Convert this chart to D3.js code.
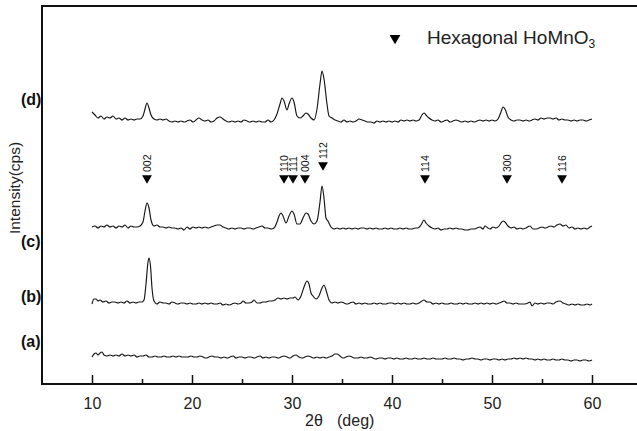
<!DOCTYPE html>
<html>
<head>
<meta charset="utf-8">
<script src="https://cdn.jsdelivr.net/npm/d3@7"></script>
<style>
html,body{margin:0;padding:0;background:#fff;}
svg{display:block;font-family:"Liberation Sans",Arial,Helvetica,sans-serif;}
</style>
</head>
<body>
<svg id="chart" width="637" height="431"></svg>
<script>
// 2θ (deg), intensity (cps, offset stacked)
const seriesD = [[10.0,272],[10.3,269],[10.6,266],[10.9,268],[11.2,265],[11.5,267],[11.8,266],[12.1,268],[12.4,265],[12.7,266],[13.0,264],[13.3,266],[13.6,264],[13.9,265],[14.2,264],[14.5,265],[14.8,265],[15.1,268],[15.3,275],[15.5,281],[15.7,276],[15.9,269],[16.2,265],[16.5,264],[16.8,265],[17.1,264],[17.4,265],[17.7,263],[18.0,262],[18.3,263],[18.6,262],[18.9,263],[19.2,262],[19.5,263],[19.8,264],[20.1,262],[20.4,264],[20.7,266],[21.0,264],[21.3,263],[21.6,264],[21.9,262],[22.2,263],[22.5,266],[22.8,267],[23.1,265],[23.4,263],[23.7,262],[24.0,263],[24.3,262],[24.6,263],[24.9,262],[25.2,264],[25.5,263],[25.8,262],[26.1,263],[26.4,262],[26.7,263],[27.0,262],[27.3,262],[27.6,264],[27.9,262],[28.2,264],[28.5,270],[28.8,280],[29.0,286],[29.2,283],[29.5,274],[29.7,280],[30.0,286],[30.2,282],[30.5,268],[30.8,266],[31.1,268],[31.4,271],[31.6,270],[31.9,266],[32.2,264],[32.5,275],[32.8,300],[33.0,313],[33.2,305],[33.5,280],[33.7,268],[34.0,266],[34.3,264],[34.6,263],[34.9,262],[35.2,264],[35.5,262],[35.8,263],[36.1,262],[36.4,263],[36.7,265],[37.0,264],[37.3,263],[37.6,262],[37.9,262],[38.2,261],[38.5,263],[38.8,262],[39.1,263],[39.4,262],[39.7,263],[40.0,262],[40.3,263],[40.6,262],[40.9,264],[41.2,263],[41.5,264],[41.8,263],[42.1,264],[42.4,263],[42.7,264],[43.0,269],[43.2,271],[43.4,269],[43.7,266],[44.0,264],[44.3,263],[44.6,264],[44.9,262],[45.2,263],[45.5,264],[45.8,262],[46.1,263],[46.4,264],[46.7,263],[47.0,262],[47.3,263],[47.6,262],[47.9,263],[48.2,262],[48.5,263],[48.8,264],[49.1,263],[49.4,264],[49.7,263],[50.0,264],[50.3,263],[50.6,265],[50.9,272],[51.1,277],[51.3,275],[51.6,267],[51.9,264],[52.2,263],[52.5,264],[52.8,264],[53.1,263],[53.4,264],[53.7,263],[54.0,264],[54.3,265],[54.6,264],[54.9,266],[55.2,265],[55.5,266],[55.8,266],[56.1,265],[56.4,266],[56.7,264],[57.0,265],[57.3,264],[57.6,264],[57.9,263],[58.2,264],[58.5,263],[58.8,264],[59.1,264],[59.4,263],[59.7,264],[60.0,265]];

const seriesC = [[10.0,157],[10.3,158],[10.6,156],[10.9,158],[11.2,157],[11.5,159],[11.8,157],[12.1,158],[12.4,156],[12.7,158],[13.0,157],[13.3,159],[13.6,156],[13.9,158],[14.2,157],[14.5,157],[14.8,158],[15.1,162],[15.3,173],[15.5,181],[15.7,176],[15.9,164],[16.2,158],[16.5,159],[16.8,157],[17.1,157],[17.4,156],[17.7,157],[18.0,156],[18.3,156],[18.6,155],[18.9,156],[19.2,154],[19.5,157],[19.8,155],[20.1,157],[20.4,156],[20.7,157],[21.0,156],[21.3,157],[21.6,156],[21.9,157],[22.2,158],[22.5,159],[22.8,159],[23.1,157],[23.4,156],[23.7,155],[24.0,156],[24.3,155],[24.6,156],[24.9,156],[25.2,155],[25.5,156],[25.8,156],[26.1,155],[26.4,156],[26.7,157],[27.0,158],[27.3,156],[27.6,156],[27.9,155],[28.2,156],[28.5,162],[28.7,168],[28.9,171],[29.1,168],[29.4,161],[29.7,168],[30.0,173],[30.2,170],[30.5,160],[30.8,160],[31.1,166],[31.4,171],[31.6,170],[31.9,163],[32.2,160],[32.5,163],[32.8,182],[33.0,198],[33.2,186],[33.4,166],[33.6,163],[33.9,157],[34.2,155],[34.5,156],[34.8,155],[35.1,156],[35.4,155],[35.7,156],[36.0,155],[36.3,156],[36.6,155],[36.9,156],[37.2,156],[37.5,155],[37.8,156],[38.1,155],[38.4,156],[38.7,155],[39.0,155],[39.3,156],[39.6,155],[39.9,156],[40.2,155],[40.5,155],[40.8,156],[41.1,155],[41.4,156],[41.7,155],[42.0,155],[42.3,156],[42.6,156],[42.9,159],[43.2,164],[43.4,161],[43.7,158],[44.0,156],[44.3,155],[44.6,156],[44.9,154],[45.2,155],[45.5,155],[45.8,156],[46.1,155],[46.4,156],[46.7,155],[47.0,155],[47.3,154],[47.6,154],[47.9,155],[48.2,155],[48.5,156],[48.8,157],[49.1,155],[49.3,158],[49.6,156],[49.8,155],[50.1,157],[50.4,156],[50.7,158],[50.9,161],[51.1,163],[51.3,162],[51.6,158],[51.9,156],[52.2,157],[52.5,155],[52.8,156],[53.1,155],[53.4,156],[53.8,158],[54.1,155],[54.4,155],[54.7,156],[55.0,157],[55.3,156],[55.6,157],[55.9,158],[56.2,157],[56.5,159],[56.8,160],[57.1,158],[57.4,159],[57.7,156],[58.0,157],[58.3,155],[58.6,156],[58.9,155],[59.2,156],[59.5,155],[59.8,157],[60.0,158]];

const seriesB = [[10.0,80],[10.2,85],[10.4,85],[10.6,83],[10.8,84],[11.1,82],[11.4,83],[11.7,81],[12.0,82],[12.3,82],[12.6,81],[12.9,82],[13.2,81],[13.5,83],[13.8,81],[14.1,82],[14.4,81],[14.7,82],[15.0,82],[15.2,84],[15.4,100],[15.6,122],[15.7,126],[15.85,118],[16.0,96],[16.2,83],[16.5,80],[16.8,82],[17.1,81],[17.4,81],[17.7,80],[18.0,82],[18.3,81],[18.6,80],[18.9,81],[19.2,81],[19.5,80],[19.8,81],[20.1,80],[20.4,80],[20.7,81],[21.0,80],[21.3,81],[21.6,80],[21.9,81],[22.2,80],[22.5,80],[22.8,81],[23.1,79],[23.4,80],[23.7,79],[24.0,80],[24.3,81],[24.6,80],[24.9,81],[25.1,83],[25.4,81],[25.7,81],[26.0,82],[26.2,84],[26.5,81],[26.8,81],[27.1,82],[27.4,82],[27.7,83],[28.0,83],[28.3,84],[28.6,86],[28.9,85],[29.2,86],[29.5,85],[29.8,86],[30.1,86],[30.3,87],[30.6,84],[30.9,88],[31.2,97],[31.5,103],[31.7,100],[31.9,91],[32.1,88],[32.4,85],[32.7,88],[33.0,96],[33.2,99],[33.4,94],[33.7,84],[34.0,81],[34.3,82],[34.6,81],[34.9,82],[35.2,81],[35.5,80],[35.8,81],[36.1,82],[36.4,80],[36.7,81],[37.0,80],[37.3,81],[37.6,80],[37.9,80],[38.2,81],[38.5,80],[38.8,81],[39.1,80],[39.4,80],[39.7,81],[40.0,81],[40.3,80],[40.6,81],[40.9,80],[41.2,81],[41.5,80],[41.8,80],[42.1,81],[42.4,80],[42.7,81],[43.0,83],[43.2,84],[43.5,82],[43.8,82],[44.1,80],[44.4,81],[44.7,80],[45.0,81],[45.3,80],[45.6,80],[45.9,81],[46.2,80],[46.5,80],[46.8,81],[47.1,80],[47.4,81],[47.7,80],[48.0,80],[48.3,81],[48.6,80],[48.9,81],[49.2,80],[49.5,81],[49.8,80],[50.1,81],[50.4,80],[50.7,81],[51.0,82],[51.2,83],[51.5,81],[51.8,81],[52.1,80],[52.4,81],[52.7,80],[53.0,80],[53.3,80],[53.6,81],[53.8,82],[54.0,78],[54.3,81],[54.6,80],[54.9,81],[55.2,80],[55.5,81],[55.8,81],[56.1,80],[56.4,82],[56.8,83],[57.1,81],[57.4,80],[57.7,79],[58.0,80],[58.3,79],[58.6,80],[58.9,79],[59.2,79],[59.5,80],[59.8,79],[60.0,80]];

const seriesA = [[10.0,27],[10.2,30],[10.4,31],[10.6,29],[10.8,31],[11.0,32],[11.2,29],[11.5,28],[11.8,29],[12.1,28],[12.4,29],[12.7,28],[13.0,30],[13.3,28],[13.6,29],[13.9,28],[14.2,29],[14.5,27],[14.8,28],[15.1,28],[15.4,29],[15.7,27],[16.0,27],[16.3,28],[16.6,27],[16.9,27],[17.2,28],[17.5,27],[17.8,27],[18.1,28],[18.4,27],[18.7,28],[19.0,27],[19.3,27],[19.6,27],[19.9,28],[20.2,27],[20.5,27],[20.8,28],[21.1,27],[21.4,26],[21.7,27],[22.0,28],[22.3,27],[22.6,27],[22.9,26],[23.2,27],[23.5,26],[23.8,27],[24.1,28],[24.4,26],[24.7,27],[25.0,27],[25.3,26],[25.6,27],[25.9,27],[26.2,26],[26.5,27],[26.8,28],[27.1,26],[27.4,27],[27.7,26],[28.0,27],[28.3,27],[28.6,26],[28.9,27],[29.2,28],[29.5,27],[29.8,26],[30.1,28],[30.4,29],[30.7,27],[31.0,26],[31.3,27],[31.6,28],[31.9,27],[32.2,26],[32.5,27],[32.8,26],[33.1,27],[33.4,26],[33.7,27],[34.0,28],[34.3,30],[34.5,30],[34.8,28],[35.1,26],[35.4,27],[35.7,28],[36.0,27],[36.3,26],[36.6,26],[36.9,27],[37.2,26],[37.5,26],[37.8,27],[38.1,26],[38.4,25],[38.7,26],[39.0,26],[39.3,25],[39.6,26],[39.9,26],[40.2,25],[40.5,26],[40.8,25],[41.1,25],[41.4,26],[41.7,25],[42.0,25],[42.3,26],[42.6,25],[42.9,25],[43.2,26],[43.5,25],[43.8,25],[44.1,26],[44.4,25],[44.7,25],[45.0,25],[45.3,26],[45.6,25],[45.9,25],[46.2,26],[46.5,25],[46.8,25],[47.1,24],[47.4,25],[47.7,25],[48.0,26],[48.3,25],[48.6,25],[48.9,24],[49.2,25],[49.5,25],[49.8,24],[50.1,25],[50.4,25],[50.7,24],[51.0,25],[51.3,24],[51.6,25],[51.9,25],[52.2,26],[52.5,25],[52.8,26],[53.1,25],[53.4,26],[53.7,25],[54.0,25],[54.3,24],[54.6,25],[54.9,24],[55.2,25],[55.5,24],[55.8,24],[56.1,25],[56.4,24],[56.7,24],[57.0,25],[57.3,24],[57.6,24],[57.9,23],[58.2,24],[58.5,24],[58.8,23],[59.1,24],[59.4,24],[59.7,23],[60.0,24]];

const seriesNames = ["(d)","(c)","(b)","(a)"];
const seriesLabelLevel = [285, 143, 88, 43];   // intensity level of each label

const peakLabels = ["002","110","111","004","112","114","300","116"];
const peakPositions = [15.5, 29.2, 30.1, 31.3, 33.1, 43.3, 51.5, 57.0];
const peakMarkerLevel = [206, 206, 206, 206, 219, 206, 206, 206];

const xTicks = [10, 20, 30, 40, 50, 60];
const xMinorTicks = [15, 25, 35, 45, 55];
const xDomain = [5, 65];
const yDomain = [0, 378];

const xTitleParts = ["2θ", "(deg)"];
const yTitle = "Intensity(cps)";
const legendText = "Hexagonal HoMnO";
const legendSub = "3";

const svg = d3.select("#chart");
const mLeft = 42, mTop = 6, mBottom = 384, mRight = 642;

const x = d3.scaleLinear().domain(xDomain).range([mLeft, mRight]);
const y = d3.scaleLinear().domain(yDomain).range([mBottom, mTop]);

// frame
svg.append("rect")
  .attr("x", mLeft).attr("y", mTop)
  .attr("width", mRight - mLeft).attr("height", mBottom - mTop)
  .attr("fill", "none").attr("stroke", "#111").attr("stroke-width", 2);

// x axis ticks (inward)
const xAxis = d3.axisBottom(x).tickValues(xTicks).tickSize(-9).tickPadding(14).tickFormat(d3.format("d"));
const gx = svg.append("g").attr("transform", `translate(0,${mBottom})`).call(xAxis);
gx.select(".domain").remove();
gx.selectAll(".tick line").attr("stroke", "#111").attr("stroke-width", 1.5);
gx.selectAll(".tick text").attr("font-size", 16).attr("fill", "#222")
  .attr("font-family", "'Liberation Sans', Arial, sans-serif");

const xMinor = d3.axisBottom(x).tickValues(xMinorTicks).tickSize(-5).tickFormat("");
const gxm = svg.append("g").attr("transform", `translate(0,${mBottom})`).call(xMinor);
gxm.select(".domain").remove();
gxm.selectAll(".tick line").attr("stroke", "#111").attr("stroke-width", 1.5);

// axis titles
const xt = svg.append("text").attr("y", 426).attr("font-size", 16).attr("fill", "#222");
xt.append("tspan").attr("x", 305).text(xTitleParts[0]);
xt.append("tspan").attr("x", 337).text(xTitleParts[1]);

svg.append("text")
  .attr("transform", `translate(20,188) rotate(-90)`)
  .attr("text-anchor", "middle").attr("font-size", 15.5).attr("fill", "#222")
  .text(yTitle);

// curves
const line = d3.line().x(d => x(d[0])).y(d => y(d[1])).curve(d3.curveMonotoneX);
[seriesD, seriesC, seriesB, seriesA].forEach(s => {
  svg.append("path").datum(s).attr("d", line)
    .attr("fill", "none").attr("stroke", "#151515").attr("stroke-width", 1.15)
    .attr("stroke-linejoin", "round");
});

// series labels
seriesNames.forEach((n, i) => {
  svg.append("text").attr("x", 21).attr("y", y(seriesLabelLevel[i]) + 6)
    .attr("font-size", 16).attr("font-weight", "bold").attr("fill", "#111").text(n);
});

// peak markers
const tri = d3.symbol().type(d3.symbolTriangle).size(42);
peakPositions.forEach((p, i) => {
  const cx = x(p), cy = y(peakMarkerLevel[i]);
  svg.append("path").attr("d", tri())
    .attr("transform", `translate(${cx},${cy}) rotate(180)`).attr("fill", "#000");
  svg.append("text")
    .attr("transform", `translate(${cx + 3.5},${cy - 6}) rotate(-90)`)
    .attr("font-size", 10.5).attr("fill", "#111").text(peakLabels[i]);
});

// legend
svg.append("path").attr("d", d3.symbol().type(d3.symbolTriangle).size(50)())
  .attr("transform", `translate(395,38) rotate(180)`).attr("fill", "#000");
const lt = svg.append("text").attr("x", 427).attr("y", 44).attr("font-size", 19).attr("fill", "#222");
lt.append("tspan").text(legendText);
lt.append("tspan").attr("font-size", 12).attr("dy", 4).text(legendSub);
</script>
</body>
</html>
